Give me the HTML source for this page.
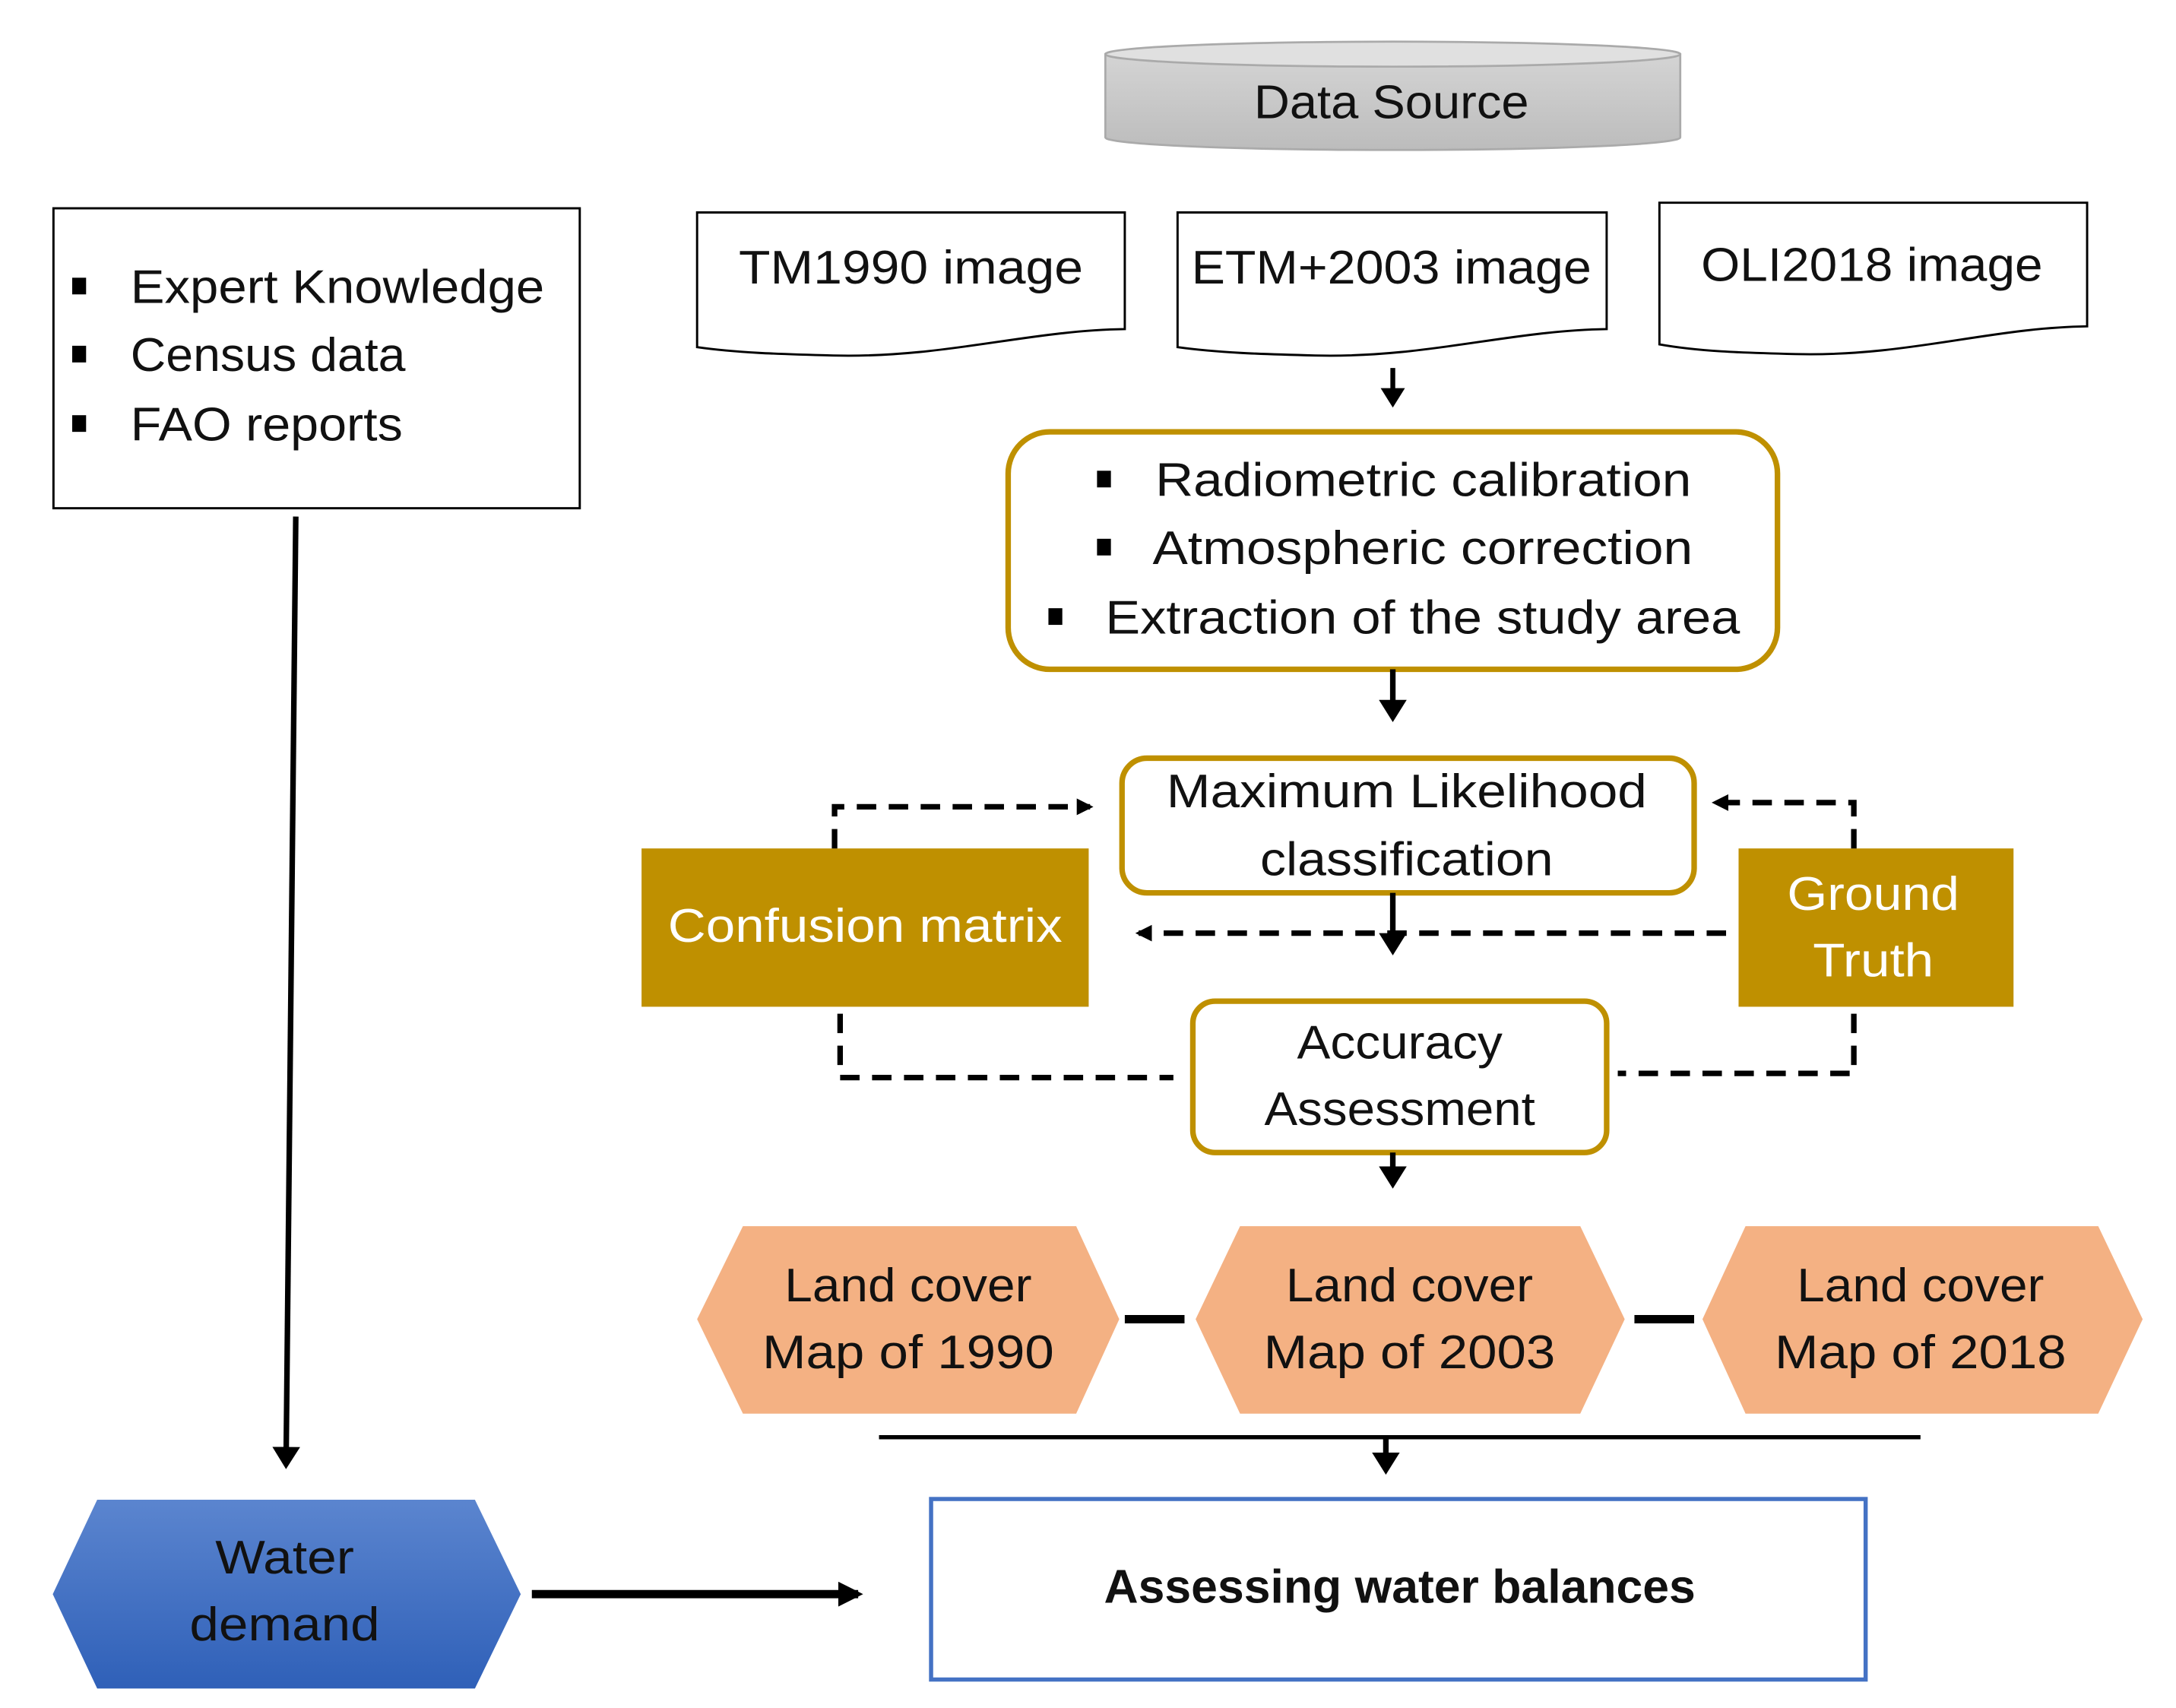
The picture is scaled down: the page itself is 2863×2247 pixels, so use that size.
<!DOCTYPE html>
<html><head><meta charset="utf-8"><style>
html,body{margin:0;padding:0;background:#fff;}
svg{display:block;}
text{font-family:"Liberation Sans",sans-serif;font-size:34px;fill:#111;dominant-baseline:central;}
</style></head><body>
<svg width="2863" height="2247" viewBox="0 0 1567 1230" preserveAspectRatio="none" xmlns="http://www.w3.org/2000/svg">
<defs>
<marker id="ah" markerWidth="4" markerHeight="5" refX="3" refY="2.5" orient="auto" markerUnits="strokeWidth"><path d="M0,0 L4,2.5 L0,5 z" fill="#000"/></marker>
<marker id="ahs" markerWidth="3" markerHeight="3" refX="2.4" refY="1.5" orient="auto" markerUnits="strokeWidth"><path d="M0,0 L3,1.5 L0,3 z" fill="#000"/></marker>
<linearGradient id="cyl" x1="0" y1="0" x2="0" y2="1"><stop offset="0" stop-color="#d4d4d4"/><stop offset="1" stop-color="#bcbcbc"/></linearGradient>
<linearGradient id="blue" x1="0" y1="0" x2="0" y2="1"><stop offset="0" stop-color="#5b85cf"/><stop offset="1" stop-color="#2f60b8"/></linearGradient>
</defs>
<path d="M796,39 L796,99 A207,9 0 0 0 1210,99 L1210,39 Z" fill="url(#cyl)" stroke="#aaa" stroke-width="1.5"/>
<ellipse cx="1003" cy="39" rx="207" ry="9" fill="#e0e0e0" stroke="#aaa" stroke-width="1.5"/>
<text x="1002" y="74" text-anchor="middle" textLength="198" lengthAdjust="spacingAndGlyphs">Data Source</text>
<rect x="38.5" y="150" width="379" height="216" fill="#fff" stroke="#000" stroke-width="1.6"/>
<rect x="52" y="200" width="10" height="12"/><rect x="52" y="249" width="10" height="12"/><rect x="52" y="299" width="10" height="12"/>
<text x="94" y="207" textLength="298" lengthAdjust="spacingAndGlyphs">Expert Knowledge</text>
<text x="94" y="256" textLength="198" lengthAdjust="spacingAndGlyphs">Census data</text>
<text x="94" y="306" textLength="196" lengthAdjust="spacingAndGlyphs">FAO reports</text>
<path d="M502,153 L810,153 L810,237 C740,238 680,258 600,256 C560,255 530,254 502,250 Z" fill="#fff" stroke="#000" stroke-width="1.6"/>
<path d="M848,153 L1157,153 L1157,237 C1087,238 1027,258 947,256 C907,255 877,254 848,250 Z" fill="#fff" stroke="#000" stroke-width="1.6"/>
<path d="M1195,146 L1503,146 L1503,235 C1433,236 1373,257 1293,255 C1253,254 1223,253 1195,248 Z" fill="#fff" stroke="#000" stroke-width="1.6"/>
<text x="656" y="193" text-anchor="middle" textLength="248" lengthAdjust="spacingAndGlyphs">TM1990 image</text>
<text x="1002" y="193" text-anchor="middle" textLength="288" lengthAdjust="spacingAndGlyphs">ETM+2003 image</text>
<text x="1348" y="191" text-anchor="middle" textLength="246" lengthAdjust="spacingAndGlyphs">OLI2018 image</text>
<line x1="1003" y1="265" x2="1003" y2="290" stroke="#000" stroke-width="3.5" marker-end="url(#ah)"/>
<rect x="726" y="311" width="554" height="171" rx="30" fill="#fff" stroke="#BF9000" stroke-width="4"/>
<rect x="790" y="339" width="10" height="12"/><rect x="790" y="388" width="10" height="12"/><rect x="755" y="438" width="10" height="12"/>
<text x="832" y="346" textLength="386" lengthAdjust="spacingAndGlyphs">Radiometric calibration</text>
<text x="830" y="395" textLength="389" lengthAdjust="spacingAndGlyphs">Atmospheric correction</text>
<text x="796" y="445" textLength="457" lengthAdjust="spacingAndGlyphs">Extraction of the study area</text>
<line x1="1003" y1="482" x2="1003" y2="516" stroke="#000" stroke-width="4" marker-end="url(#ah)"/>
<rect x="808" y="546" width="412" height="97" rx="18" fill="#fff" stroke="#BF9000" stroke-width="4"/>
<text x="1013" y="570" text-anchor="middle" textLength="346" lengthAdjust="spacingAndGlyphs">Maximum Likelihood</text>
<text x="1013" y="619" text-anchor="middle" textLength="211" lengthAdjust="spacingAndGlyphs">classification</text>
<rect x="462" y="611" width="322" height="114" fill="#BF9000"/>
<text x="623" y="667" text-anchor="middle" style="fill:#fff" textLength="284" lengthAdjust="spacingAndGlyphs">Confusion matrix</text>
<rect x="1252" y="611" width="198" height="114" fill="#BF9000"/>
<text x="1349" y="644" text-anchor="middle" style="fill:#fff" textLength="124" lengthAdjust="spacingAndGlyphs">Ground</text>
<text x="1349" y="692" text-anchor="middle" style="fill:#fff" textLength="87" lengthAdjust="spacingAndGlyphs">Truth</text>
<g fill="none" stroke="#000" stroke-width="4" stroke-dasharray="14,9">
<path d="M601,611 L601,581 L785,581" marker-end="url(#ahs)"/>
<path d="M1335,611 L1335,578 L1235,578" marker-end="url(#ahs)"/>
<path d="M1243,672 L820,672" marker-end="url(#ahs)"/>
<path d="M605,730 L605,776 L845,776"/>
<path d="M1335,730 L1335,773 L1165,773"/>
</g>
<line x1="1003" y1="643" x2="1003" y2="684" stroke="#000" stroke-width="4" marker-end="url(#ah)"/>
<rect x="859" y="721" width="298" height="109" rx="16" fill="#fff" stroke="#BF9000" stroke-width="4"/>
<text x="1008" y="751" text-anchor="middle" textLength="148" lengthAdjust="spacingAndGlyphs">Accuracy</text>
<text x="1008" y="799" text-anchor="middle" textLength="195" lengthAdjust="spacingAndGlyphs">Assessment</text>
<line x1="1003" y1="830" x2="1003" y2="852" stroke="#000" stroke-width="4" marker-end="url(#ah)"/>
<polygon points="502,950 535,883 775,883 806,950 775,1018 535,1018" fill="#F4B183"/>
<polygon points="861,950 893,883 1138,883 1170,950 1138,1018 893,1018" fill="#F4B183"/>
<polygon points="1226,950 1257,883 1511,883 1543,950 1511,1018 1257,1018" fill="#F4B183"/>
<text x="654" y="926" text-anchor="middle" textLength="178" lengthAdjust="spacingAndGlyphs">Land cover</text>
<text x="654" y="974" text-anchor="middle" textLength="210" lengthAdjust="spacingAndGlyphs">Map of 1990</text>
<text x="1015" y="926" text-anchor="middle" textLength="178" lengthAdjust="spacingAndGlyphs">Land cover</text>
<text x="1015" y="974" text-anchor="middle" textLength="210" lengthAdjust="spacingAndGlyphs">Map of 2003</text>
<text x="1383" y="926" text-anchor="middle" textLength="178" lengthAdjust="spacingAndGlyphs">Land cover</text>
<text x="1383" y="974" text-anchor="middle" textLength="210" lengthAdjust="spacingAndGlyphs">Map of 2018</text>
<line x1="810" y1="950" x2="853" y2="950" stroke="#000" stroke-width="6"/>
<line x1="1177" y1="950" x2="1220" y2="950" stroke="#000" stroke-width="6"/>
<line x1="633" y1="1035" x2="1383" y2="1035" stroke="#000" stroke-width="3"/>
<line x1="998" y1="1035" x2="998" y2="1058" stroke="#000" stroke-width="4" marker-end="url(#ah)"/>
<rect x="670.5" y="1079.5" width="673" height="130" fill="#fff" stroke="#4472C4" stroke-width="3"/>
<text x="1008" y="1143" text-anchor="middle" font-weight="bold" textLength="426" lengthAdjust="spacingAndGlyphs">Assessing water balances</text>
<polygon points="38,1148 70,1080 342,1080 375,1148 342,1216 70,1216" fill="url(#blue)"/>
<text x="205" y="1122" text-anchor="middle" textLength="100" lengthAdjust="spacingAndGlyphs">Water</text>
<text x="205" y="1170" text-anchor="middle" textLength="137" lengthAdjust="spacingAndGlyphs">demand</text>
<line x1="213" y1="372" x2="206" y2="1054" stroke="#000" stroke-width="4" marker-end="url(#ah)"/>
<line x1="383" y1="1148" x2="618" y2="1148" stroke="#000" stroke-width="6" marker-end="url(#ahs)"/>
</svg>
</body></html>
